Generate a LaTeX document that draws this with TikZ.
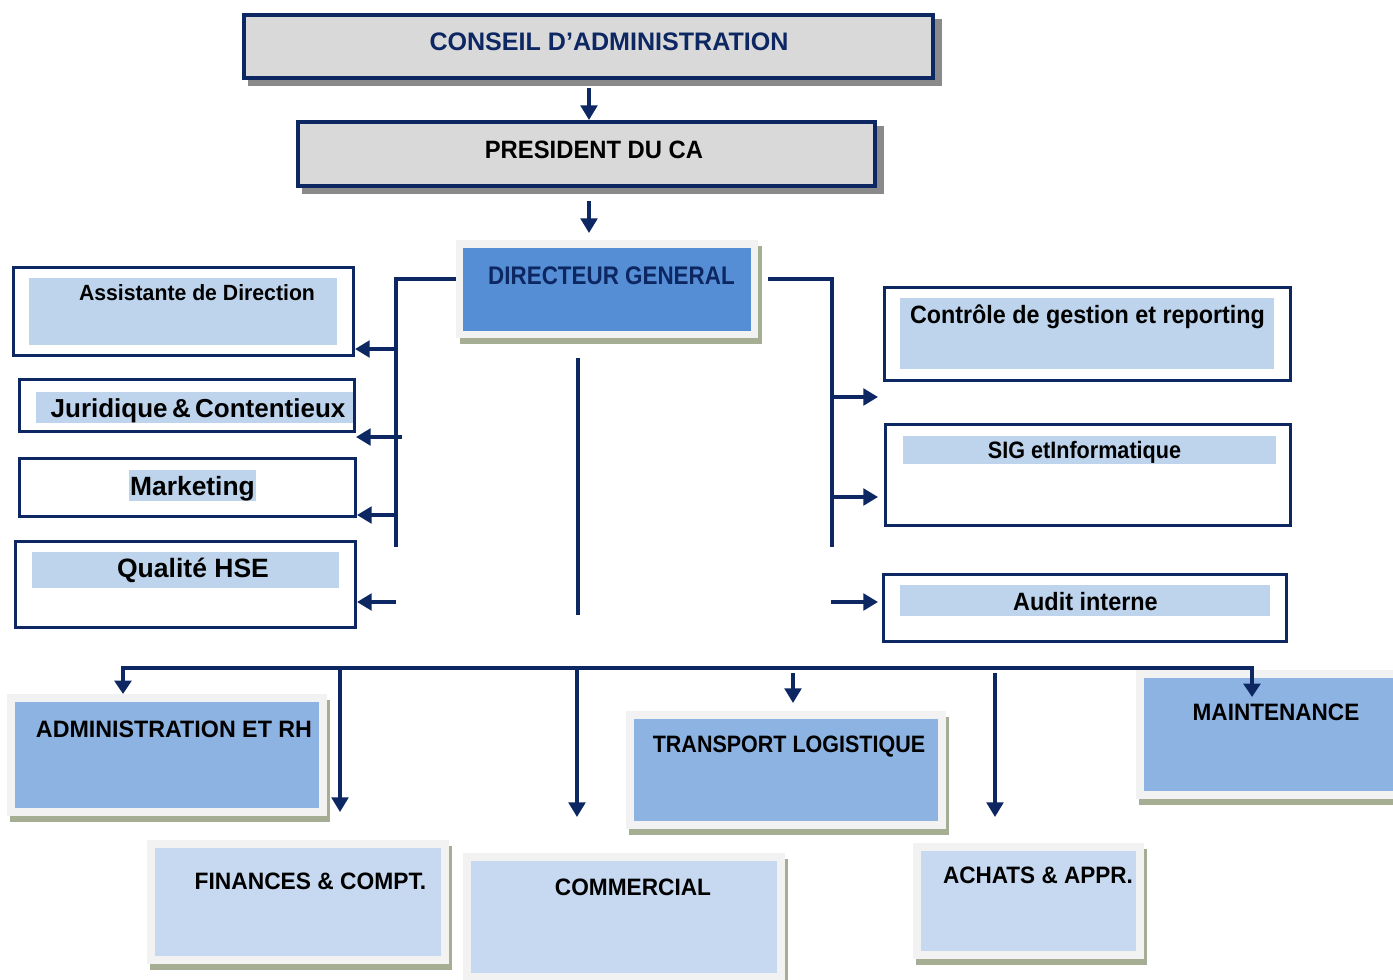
\documentclass[tikz,border=0pt]{standalone}
\usepackage{fontspec}
\setmainfont{Liberation Sans}
\usetikzlibrary{arrows.meta,fit,calc}
\definecolor{navy}{HTML}{0D2763}
\definecolor{boxgray}{HTML}{D9D9D9}
\definecolor{shgray}{HTML}{8A8A8A}
\definecolor{framegray}{HTML}{F2F2F2}
\definecolor{olivesh}{HTML}{A5AD93}
\definecolor{dgblue}{HTML}{558ED5}
\definecolor{midblue}{HTML}{8DB3E2}
\definecolor{lightblue}{HTML}{C6D9F1}
\definecolor{hlblue}{HTML}{BDD4EC}
\newcommand\tx[3]{\scalebox{#2}[1]{\fontsize{#1}{#1}\selectfont\bfseries #3}}
\newcommand\card[6]{%
  \fill[olivesh] (#2+3,#3+6) rectangle (#4+3,#5+6);
  \node[framebox, fit={(#2,#3) (#4,#5)}] (#1) {};
  \node[inner sep=0pt, outer sep=0pt, fill=#6, fit={(#2+8,#3+8) (#4-8,#5-8)}] (#1-in) {};
}
\begin{document}
\begin{tikzpicture}[x=0.75pt,y=-0.75pt,
  conn/.style={draw=navy,line width=2.5pt},
  arr/.style={conn,-{Triangle[length=11pt,width=12.5pt]}},
  obox/.style={draw=navy,line width=2.3pt,inner sep=0pt},
  gbox/.style={draw=navy,line width=3pt,fill=boxgray,inner sep=0pt},
  hl/.style={fill=hlblue,inner sep=0pt,outer sep=0pt},
  framebox/.style={fill=framegray,inner sep=0pt,outer sep=0pt},
  lbl/.style={anchor=base,inner sep=0pt,outer sep=0pt}]

\useasboundingbox (0,0) rectangle (1393,979);
\clip (0,0) rectangle (1393,979);
\fill[white] (0,0) rectangle (1393,979);

% ---------- top boxes ----------
\fill[shgray] (248,19) rectangle (941.5,86);
\node[gbox, fit={(243.5,14.5) (933,78)}] (ca) {};
\node[lbl, text=navy] (ca-t) at (609,50) {\tx{19pt}{0.99}{CONSEIL D’ADMINISTRATION}};

\fill[shgray] (302,126) rectangle (883.5,193.5);
\node[gbox, fit={(297.6,122) (875,186)}] (pres) {};
\node[lbl] (pres-t) at (594,158) {\tx{18.8pt}{0.95}{PRESIDENT DU CA}};

% ---------- directeur general ----------
\fill[olivesh] (460,246) rectangle (762,344);
\node[framebox, fit={(456,240) (758,338)}] (dg) {};
\node[inner sep=0pt, outer sep=0pt, fill=dgblue, fit={(463,248) (751,331)}] (dg-in) {};
\node[lbl, text=navy] (dg-t) at (611.5,284) {\tx{19.1pt}{0.88}{DIRECTEUR GENERAL}};

% ---------- left boxes ----------
\node[hl, fit={(29,278) (337,345)}] (as-h) {};
\node[obox, fit={(13.5,267.5) (353.5,355.5)}] (as) {};
\node[lbl] (as-t) at (197,300) {\tx{16.5pt}{0.965}{Assistante de Direction}};

\node[hl, fit={(36,392) (354,423)}] (jc-h) {};
\node[obox, fit={(19.5,379.5) (354.5,431.5)}] (jc) {};
\node[lbl] (jc-t) at (198,417) {\tx{19.5pt}{1.0}{Juridique\,\&\,Contentieux}};

\node[hl, fit={(129,470) (256,501)}] (mk-h) {};
\node[obox, fit={(19.5,458.5) (355.5,516.5)}] (mk) {};
\node[lbl] (mk-t) at (192.5,495) {\tx{19.8pt}{1}{Marketing}};

\node[hl, fit={(32,552) (339,588)}] (qh-h) {};
\node[obox, fit={(15.5,541.5) (355.5,627.5)}] (qh) {};
\node[lbl] (qh-t) at (193,577) {\tx{19.9pt}{1}{Qualité HSE}};

% ---------- right boxes ----------
\node[hl, fit={(900,298) (1274,369)}] (cg-h) {};
\node[obox, fit={(884.5,287.5) (1290.5,380.5)}] (cg) {};
\node[lbl] (cg-t) at (1087.5,323) {\tx{18.8pt}{0.93}{Contrôle de gestion et reporting}};

\node[hl, fit={(903,436) (1276,464)}] (si-h) {};
\node[obox, fit={(885.5,424.5) (1290.5,525.5)}] (si) {};
\node[lbl] (si-t) at (1084.5,458) {\tx{17.8pt}{0.91}{SIG etInformatique}};

\node[hl, fit={(900,585) (1270,616)}] (au-h) {};
\node[obox, fit={(883.5,574.5) (1286.5,641.5)}] (au) {};
\node[lbl] (au-t) at (1085.5,610) {\tx{18.8pt}{0.935}{Audit interne}};

% ---------- bottom cards ----------
\card{adm}{7}{694}{327}{816}{midblue}
\node[lbl] (adm-t) at (174,737) {\tx{17.8pt}{0.98}{ADMINISTRATION ET RH}};
\card{fin}{147}{840}{449}{964}{lightblue}
\node[lbl] (fin-t) at (310.5,889) {\tx{17.8pt}{0.96}{FINANCES \& COMPT.}};
\card{com}{463}{853}{785}{981}{lightblue}
\node[lbl] (com-t) at (633,895) {\tx{17.8pt}{0.955}{COMMERCIAL}};
\card{tr}{626}{711}{946}{829}{midblue}
\node[lbl] (tr-t) at (789,752) {\tx{17.8pt}{0.906}{TRANSPORT LOGISTIQUE}};
\card{ach}{913}{843}{1144}{959}{lightblue}
\node[lbl] (ach-t) at (1038,883) {\tx{17.8pt}{0.95}{ACHATS \& APPR.}};
\card{mt}{1136}{670}{1420}{799}{midblue}
\node[lbl] (mt-t) at (1276,720) {\tx{17.8pt}{0.95}{MAINTENANCE}};

% ---------- connectors ----------
\coordinate (a1) at (589,88);
\draw[arr] (a1) -- (a1 |- pres.north);
\coordinate (a2s) at (589,201);
\coordinate (a2e) at (589,233);
\draw[arr] (a2s) -- (a2e);

\coordinate (lt) at (396,279);
\coordinate (lb) at (396,547);
\draw[conn] (lt -| dg.west) -- (lt) -- (lb);
\coordinate (l1) at (396,349);
\draw[arr] (l1) -- (l1 -| as.east);
\coordinate (l2) at (402,437);
\coordinate (l2e) at (356,437);
\draw[arr] (l2) -- (l2e);
\coordinate (l3) at (396,515);
\draw[arr] (l3) -- (l3 -| mk.east);
\coordinate (l4) at (396,602);
\draw[arr] (l4) -- (l4 -| qh.east);

\coordinate (rt0) at (768,279);
\coordinate (rt) at (832,279);
\coordinate (rb) at (832,547);
\draw[conn] (rt0) -- (rt) -- (rb);
\coordinate (r1) at (832,397);
\coordinate (r1e) at (878,397);
\draw[arr] (r1) -- (r1e);
\coordinate (r2) at (832,497);
\coordinate (r2e) at (878,497);
\draw[arr] (r2) -- (r2e);
\coordinate (r3) at (831,602);
\coordinate (r3e) at (878,602);
\draw[arr] (r3) -- (r3e);

\coordinate (c1) at (578,358);
\coordinate (c2) at (578,615);
\draw[conn] (c1) -- (c2);

\coordinate (b1) at (123,668);
\coordinate (b2) at (1252,668);
\coordinate (m1) at (1252,697);
\draw[conn, {Triangle[length=10pt,width=12.5pt]}-{Triangle[length=10pt,width=12.5pt]}]
  (b1 |- adm.north) -- (b1) -- (b2) -- (m1);
\coordinate (f1) at (340,668);
\coordinate (f2) at (340,812);
\draw[arr] (f1) -- (f2);
\coordinate (k1) at (577,668);
\coordinate (k2) at (577,817);
\draw[arr] (k1) -- (k2);
\coordinate (t1) at (793,673);
\coordinate (t2) at (793,703);
\draw[arr] (t1) -- (t2);
\coordinate (h1) at (995,673);
\coordinate (h2) at (995,817);
\draw[arr] (h1) -- (h2);
\end{tikzpicture}
\end{document}
